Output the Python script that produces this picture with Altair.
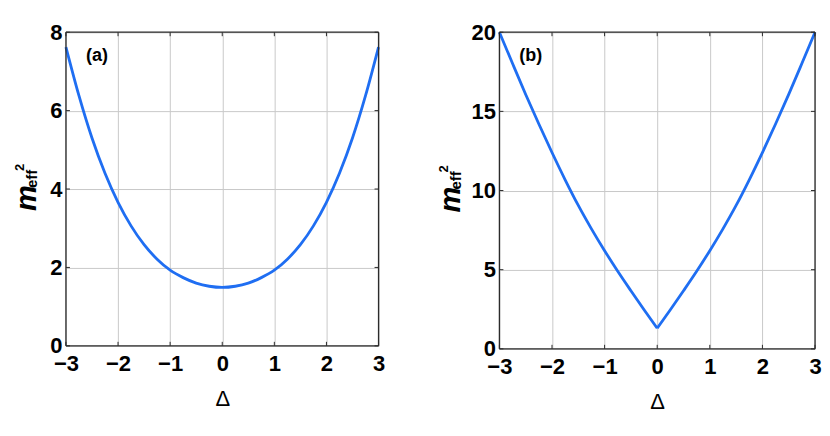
import altair as alt
import pandas as pd

# ---- data ----
delta = [-3.0, -2.75, -2.5, -2.25, -2.0, -1.75, -1.5, -1.25, -1.0, -0.75, -0.5, -0.25, 0.0,
         0.25, 0.5, 0.75, 1.0, 1.25, 1.5, 1.75, 2.0, 2.25, 2.5, 2.75, 3.0]
side = ["L"] * 13 + ["R"] * 12
m2_a = [7.62, 6.38, 5.30, 4.40, 3.66, 3.06, 2.58, 2.21, 1.93, 1.74, 1.60, 1.52, 1.49,
        1.52, 1.60, 1.74, 1.93, 2.21, 2.58, 3.06, 3.66, 4.40, 5.30, 6.38, 7.62]
m2_b = [20.0, 18.02, 16.07, 14.2, 12.4, 10.68, 9.06, 7.58, 6.2, 4.9, 3.67, 2.47, 1.3,
        2.47, 3.67, 4.9, 6.2, 7.58, 9.06, 10.68, 12.4, 14.2, 16.07, 18.02, 20.0]
x_ticks = [-3, -2, -1, 0, 1, 2, 3]
y_ticks_a = [0, 2, 4, 6, 8]
y_ticks_b = [0, 5, 10, 15, 20]
panel_labels = ["(a)", "(b)"]

FONT = "Liberation Sans"
BLUE = "#1f6ef2"
FRAME = "#2b2b2b"
GRID = "#c9c9c9"


def panel(values, ydom, yticks, W, H, tag, split, title_dx):
    rows = []
    for i, (d, v) in enumerate(zip(delta, values)):
        rows.append({"delta": d, "m2": v, "side": side[i] if split else "A"})
    if split:
        rows.append({"delta": 0.0, "m2": values[12], "side": "R"})
    df = pd.DataFrame(rows)
    xs = alt.Scale(domain=[-3, 3], nice=False, zero=False)
    ys = alt.Scale(domain=ydom, nice=False, zero=False)
    xaxis = alt.Axis(values=x_ticks, title="Δ", grid=True, gridColor=GRID, gridWidth=1,
                     ticks=False, tickSize=0, domain=False, labelFont=FONT, labelFontSize=22,
                     labelFontWeight="bold", labelColor="black", labelPadding=8,
                     labelFlush=False, labelOverlap=False,
                     titleFont=FONT, titleFontSize=22, titleFontWeight="normal",
                     titleColor="black", titlePadding=14, format="d")
    yaxis = alt.Axis(values=yticks, title=None, grid=True, gridColor=GRID, gridWidth=1,
                     ticks=False, tickSize=0, domain=False, labelFont=FONT, labelFontSize=22,
                     labelFontWeight="bold", labelColor="black", labelPadding=4,
                     labelFlush=False, labelOverlap=False, format="d")
    line = alt.Chart(df).mark_line(color=BLUE, strokeWidth=2.8, interpolate="monotone").encode(
        x=alt.X("delta:Q", scale=xs, axis=xaxis),
        y=alt.Y("m2:Q", scale=ys, axis=yaxis),
        detail="side:N",
        order="delta:Q",
    )
    xt = pd.DataFrame({"delta": x_ticks})
    yt = pd.DataFrame({"m2": yticks})
    tk = dict(color=FRAME, strokeWidth=1)
    bot = alt.Chart(xt).mark_rule(**tk).encode(
        x=alt.X("delta:Q", scale=xs, axis=xaxis), y=alt.value(H), y2=alt.value(H - 4))
    top = alt.Chart(xt).mark_rule(**tk).encode(
        x=alt.X("delta:Q", scale=xs, axis=xaxis), y=alt.value(0), y2=alt.value(4))
    left = alt.Chart(yt).mark_rule(**tk).encode(
        y=alt.Y("m2:Q", scale=ys, axis=yaxis), x=alt.value(0), x2=alt.value(4))
    right = alt.Chart(yt).mark_rule(**tk).encode(
        y=alt.Y("m2:Q", scale=ys, axis=yaxis), x=alt.value(W - 4), x2=alt.value(W))
    fr = dict(color=FRAME, strokeWidth=1.3)
    one = pd.DataFrame({"k": [0]})
    f_top = alt.Chart(one).mark_rule(**fr).encode(x=alt.value(0), x2=alt.value(W), y=alt.value(0))
    f_bot = alt.Chart(one).mark_rule(**fr).encode(x=alt.value(0), x2=alt.value(W), y=alt.value(H))
    f_lft = alt.Chart(one).mark_rule(**fr).encode(y=alt.value(0), y2=alt.value(H), x=alt.value(0))
    f_rgt = alt.Chart(one).mark_rule(**fr).encode(y=alt.value(0), y2=alt.value(H), x=alt.value(W))
    lab = alt.Chart(pd.DataFrame({"s": [tag]})).mark_text(
        font=FONT, fontSize=18, fontWeight="bold", align="left", baseline="alphabetic",
        color="black").encode(text="s:N", x=alt.value(20), y=alt.value(29))
    cy = H / 2
    m = alt.Chart(pd.DataFrame({"s": ["m"]})).mark_text(
        font=FONT, fontSize=29, fontWeight="bold", fontStyle="italic", angle=270,
        align="left", baseline="alphabetic", color="black").encode(
        text="s:N", x=alt.value(title_dx), y=alt.value(cy + 22))
    eff = alt.Chart(pd.DataFrame({"s": ["eff"]})).mark_text(
        font=FONT, fontSize=15, fontWeight="bold", angle=270,
        align="left", baseline="alphabetic", color="black").encode(
        text="s:N", x=alt.value(title_dx + 1), y=alt.value(cy - 1))
    sq = alt.Chart(pd.DataFrame({"s": ["2"]})).mark_text(
        font=FONT, fontSize=13, fontWeight="bold", angle=270,
        align="left", baseline="alphabetic", color="black").encode(
        text="s:N", x=alt.value(title_dx - 12), y=alt.value(cy - 18))
    return alt.layer(line, bot, top, left, right, f_top, f_bot, f_lft, f_rgt,
                     lab, m, eff, sq).properties(width=W, height=H)


pa = panel(m2_a, [0, 8], y_ticks_a, 313, 314, panel_labels[0], False, -30)
pb = panel(m2_b, [0, 20], y_ticks_b, 316, 317, panel_labels[1], True, -39)

chart = alt.hconcat(pa, pb, spacing=51).properties(
    padding={"left": 4, "top": 12, "right": 0, "bottom": 0}
).configure_view(stroke=None).configure(background="white")

chart.save("out.html", embed_options={"renderer": "svg", "actions": False})
